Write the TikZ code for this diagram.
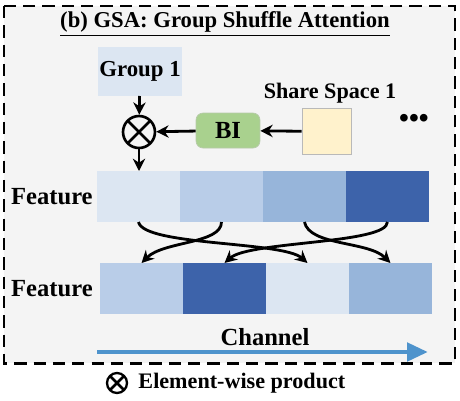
\documentclass[tikz,border=0pt]{standalone}
\usepackage{fontspec}
\setmainfont{Liberation Serif}
\usetikzlibrary{arrows.meta, positioning, calc}
\definecolor{fcA}{HTML}{DCE6F2}
\definecolor{fcB}{HTML}{B9CDE8}
\definecolor{fcC}{HTML}{97B5DA}
\definecolor{fcD}{HTML}{3D63AA}
\definecolor{panel}{HTML}{F4F4F4}
\definecolor{bigreen}{HTML}{A9D18E}
\definecolor{sharey}{HTML}{FFF2CC}
\definecolor{chanblue}{HTML}{4E93CC}

\begin{document}
\begin{tikzpicture}[
  x=0.02cm, y=-0.02cm,
  txt/.style={font=\bfseries\fontsize{12.6}{14}\selectfont, inner sep=0pt},
  big/.style={txt, font=\bfseries\fontsize{14}{16}\selectfont},
  cell/.style={minimum width=1.66cm, minimum height=1.02cm, inner sep=0pt, outer sep=0pt},
  arr/.style={-{Stealth[length=7pt, width=7pt]}, line width=1.6pt},
  otimes/.style={draw, circle, line width=1.5pt, minimum size=0.64cm, inner sep=0pt,
                 path picture={\draw[line width=1.5pt]
                   (path picture bounding box.south west) -- (path picture bounding box.north east)
                   (path picture bounding box.north west) -- (path picture bounding box.south east);}},
]
  \useasboundingbox (0,0) rectangle (460,400);

  % Panel
  \draw[line width=1.7pt, dash pattern=on 7pt off 4pt, fill=panel] (4,6) rectangle (455,363);
  \node[txt, font=\bfseries\fontsize{12.9}{14}\selectfont] (title) at (225,24) {\underline{(b) GSA: Group Shuffle Attention}};

  % Group and share space
  \node[cell, fill=fcA, minimum width=1.68cm, minimum height=0.98cm] (group) at (140,71.5) {};
  \node[txt, font=\bfseries\fontsize{13}{14}\selectfont] at (group) {Group 1};
  \node[otimes] (prod) at (139,132) {};
  \node[draw=bigreen!80!black!60, fill=bigreen, rounded corners=4pt, minimum width=1.28cm,
        minimum height=0.7cm, big] (bi) at (228,130.5) {BI};
  \node[draw=gray!55, line width=1pt, fill=sharey, minimum width=0.98cm, minimum height=0.92cm] (share) at (327,131.5) {};
  \node[txt] (sharelbl) at (330,93) {Share Space 1};
  \node[txt, font=\bfseries\fontsize{16}{16}\selectfont] (dots) at (414,121) {•••};

  % Feature rows
  \node[cell, fill=fcA] (fa1) at (138.5,196.5) {};
  \node[cell, fill=fcB, right=0pt of fa1] (fa2) {};
  \node[cell, fill=fcC, right=0pt of fa2] (fa3) {};
  \node[cell, fill=fcD, right=0pt of fa3] (fa4) {};
  \node[cell, fill=fcB] (fb1) at (141.5,288.5) {};
  \node[cell, fill=fcD, right=0pt of fb1] (fb2) {};
  \node[cell, fill=fcA, right=0pt of fb2] (fb3) {};
  \node[cell, fill=fcC, right=0pt of fb3] (fb4) {};
  \node[big, left=0.08cm of fa1] (feat1) {Feature};
  \node[big, left=0.14cm of fb1] (feat2) {Feature};

  % Arrows
  \draw[arr] (group) -- (prod);
  \draw[arr] (bi) -- (prod);
  \draw[arr] (share) -- (bi);
  \draw[arr] (prod) -- (fa1.north -| prod);

  % Shuffle
  \draw[arr] (fa1.south) .. controls +(5,24) and +(-25,-22) .. (fb3.north);
  \draw[arr] (fa2.south) .. controls +(0,22) and +(22,-22) .. (fb1.north);
  \draw[arr] (fa3.south) .. controls +(5,24) and +(-22,-22) .. (fb4.north);
  \draw[arr] (fa4.south) .. controls +(0,22) and +(25,-22) .. (fb2.north);

  % Channel
  \coordinate (chs) at (97,352);
  \coordinate (che) at (428,352);
  \draw[chanblue, line width=2.8pt, -{Triangle[length=0.42cm, width=0.36cm]}] (chs) -- (che);
  \node[big] (chan) at (265,337) {Channel};

  % Legend
  \node[otimes, minimum size=0.4cm, line width=1.3pt] (legsym) at (117,383) {};
  \node[txt, right=0.2cm of legsym] (leg) {Element-wise product};
\end{tikzpicture}
\end{document}
